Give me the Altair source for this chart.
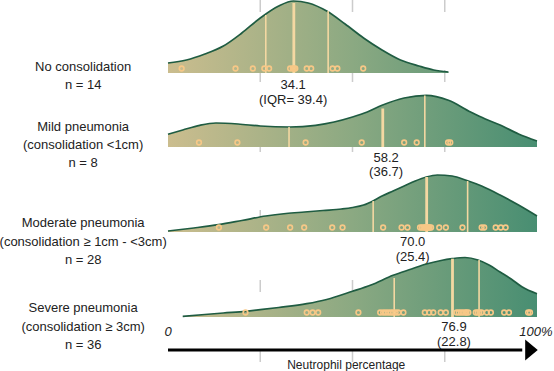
import altair as alt
import pandas as pd

# ---------------- data ----------------
groups = ["No consolidation", "Mild pneumonia", "Moderate pneumonia", "Severe pneumonia"]

# density curves (x = neutrophil %, h = relative height)
curve_x = [
    [0, 5, 10, 15, 20, 25, 30, 34, 38, 43, 48, 53, 58, 63, 68, 72, 76],
    [0, 4, 8.6, 13, 19, 25, 33, 40, 45, 50, 54, 58, 64, 70, 76, 82, 86, 90, 95, 100],
    [0, 7, 13.7, 20, 26.5, 32, 37, 42, 47, 50, 53, 56, 58, 61, 64, 67, 70, 73, 77, 81, 85, 90, 95, 100],
    [4, 10, 15, 21, 25, 30, 37.6, 43, 50, 55, 61, 66, 70, 74, 77, 80.5, 84, 87, 90, 93, 96, 100],
]
curve_h = [
    [10, 13, 19, 27, 40, 55, 67, 72, 70, 62, 49, 35, 23, 13, 7, 3, 1],
    [12.7, 17, 21.7, 24, 23, 21, 20, 21.7, 25, 30, 35, 41.7, 49, 51.7, 46.7, 35, 28, 22, 13, 6],
    [1, 4, 7.3, 11.5, 16, 18.5, 20, 21.5, 23, 24.5, 27, 32, 36, 41, 46, 51, 55, 57, 56, 51.5, 46, 37, 27, 16],
    [0.7, 2.5, 4, 5.7, 7.3, 9.5, 13.3, 17.5, 25.7, 32, 41.7, 48, 53, 56.5, 58.3, 59.5, 57, 52, 45, 38, 30, 23.3],
]

# individual observations
points = [
    [3.7, 18.3, 23.0, 26.1, 27.4, 33.1, 33.8, 34.1, 34.5, 37.6, 38.8, 44.6, 45.9, 52.9],
    [8.4, 18.8, 37.3, 52.5, 64.0, 67.4, 75.9, 76.5],
    [13.8, 26.6, 33.1, 36.9, 44.5, 47.3, 58.3, 63.3, 64.9, 68.3, 68.8, 69.2, 69.6, 69.9,
     70.0, 70.2, 70.5, 70.7, 70.9, 71.3, 73.5, 75.3, 79.8, 85.0, 85.7, 88.8, 90.2, 91.5],
    [21.0, 37.6, 39.2, 40.7, 51.6, 57.5, 58.3, 59.0, 59.7, 60.4, 61.0, 61.7, 62.4, 63.8,
     69.6, 70.8, 71.9, 73.9, 75.3, 78.2, 78.8, 79.4, 80.0, 80.6, 80.9, 81.4, 83.4, 83.9,
     84.4, 85.0, 86.4, 87.5, 91.1, 92.4, 97.6, 98.1],
]

# quartile lines (Q1, median, Q3) and the curve height at each
quart_x = [[26.5, 34.1, 43.4], [32.8, 58.2, 69.6], [55.6, 70.1, 81.2], [61.3, 77.1, 84.3]]
quart_h = [[58, 70, 62], [20, 38.5, 51.5], [31, 55, 51], [39, 58.3, 57]]

median_txt = ["34.1", "58.2", "70.0", "76.9"]
iqr_txt = ["(IQR= 39.4)", "(36.7)", "(25.4)", "(22.8)"]
group_lines = [
    ["No consolidation", "n = 14"],
    ["Mild pneumonia", "(consolidation <1cm)", "n = 8"],
    ["Moderate pneumonia", "(consolidation \u2265 1cm - <3cm)", "n = 28"],
    ["Severe pneumonia", "(consolidation \u2265 3cm)", "n = 36"],
]
grid_x = [25, 50, 75]

# ---------------- layout (pixels) ----------------
baselines = [73, 147, 232, 317]
stat_x = [33.9, 59.1, 66.3, 77.5]
stat_y = [[85, 100], [158, 172], [242, 257], [327, 342]]
label_y = [[67, 85], [127, 145, 163], [223, 242, 260], [308, 327, 345]]
label_x = -23.0
FONT = "Liberation Sans"

xs = alt.Scale(domain=[0, 100], nice=False, zero=False)
ys = alt.Scale(domain=[0, 371], reverse=True, nice=False, zero=False)

def X(f="x"):
    return alt.X(f"{f}:Q", scale=xs, axis=None)

def Y(f="y"):
    return alt.Y(f"{f}:Q", scale=ys, axis=None)

layers = []

# grid
grid_df = pd.DataFrame({"x": grid_x})
layers.append(
    alt.Chart(grid_df).mark_rule(color="#cccccc", strokeWidth=1.5, strokeDash=[12, 58])
    .encode(x=X(), y=alt.value(0), y2=alt.value(371))
)

for i, g in enumerate(groups):
    b = baselines[i]
    cdf = pd.DataFrame({"x": curve_x[i], "y": [b - h for h in curve_h[i]], "y0": b})
    vmin, vmax = min(curve_x[i]), max(curve_x[i])
    grad = alt.Gradient(
        gradient="linear",
        stops=[alt.GradientStop(color="#cbbd8e", offset=0),
               alt.GradientStop(color="#8ba982", offset=0.5),
               alt.GradientStop(color="#488e72", offset=1)],
        x1=(0 - vmin) / (vmax - vmin), x2=(100 - vmin) / (vmax - vmin), y1=0, y2=0,
    )
    layers.append(
        alt.Chart(cdf).mark_area(color=grad, interpolate="monotone")
        .encode(x=X(), y=Y(), y2="y0:Q")
    )
    layers.append(
        alt.Chart(cdf).mark_line(color="#1f5c42", strokeWidth=1.7, interpolate="monotone")
        .encode(x=X(), y=Y())
    )
    qdf = pd.DataFrame({"x": quart_x[i], "y": [b - h for h in quart_h[i]], "y0": b,
                        "w": [1.6, 2.8, 1.6]})
    layers.append(
        alt.Chart(qdf).mark_rule(color="#f4d8a2")
        .encode(x=X(), y=Y(), y2="y0:Q",
                strokeWidth=alt.StrokeWidth("w:Q", scale=None, legend=None))
    )
    pdf = pd.DataFrame({"x": points[i], "y": b - 4.5})
    layers.append(
        alt.Chart(pdf).mark_point(shape="circle", filled=False, color="#f7c887",
                                  size=22, strokeWidth=1.6, opacity=1)
        .encode(x=X(), y=Y())
    )
    sdf = pd.DataFrame({"x": stat_x[i], "y": stat_y[i], "t": [median_txt[i], iqr_txt[i]]})
    layers.append(
        alt.Chart(sdf).mark_text(font=FONT, fontSize=13, color="#222222", align="center",
                                 baseline="middle")
        .encode(x=X(), y=Y(), text="t:N")
    )
    ldf = pd.DataFrame({"x": label_x, "y": label_y[i], "t": group_lines[i]})
    layers.append(
        alt.Chart(ldf).mark_text(font=FONT, fontSize=13, color="#222222", align="center",
                                 baseline="middle")
        .encode(x=X(), y=Y(), text="t:N")
    )

# axis arrow and end labels
arrow_df = pd.DataFrame({"x": [0], "x2": [96], "y": [350]})
layers.append(
    alt.Chart(arrow_df).mark_rule(color="#000000", strokeWidth=3)
    .encode(x=X(), x2="x2:Q", y=Y())
)
head_df = pd.DataFrame({"x": [98.5], "y": [350]})
layers.append(
    alt.Chart(head_df).mark_point(shape="M-0.6,-1L0.6,0L-0.6,1Z", filled=True, color="#000000",
                                  size=441, opacity=1)
    .encode(x=X(), y=Y())
)
end_df = pd.DataFrame({"x": [0, 99.7], "y": [332, 332], "t": ["0", "100%"]})
layers.append(
    alt.Chart(end_df).mark_text(font=FONT, fontSize=13, fontStyle="italic", color="#222222",
                                align="center", baseline="middle")
    .encode(x=X(), y=Y(), text="t:N")
)
title_df = pd.DataFrame({"x": [48.3], "y": [365], "t": ["Neutrophil percentage"]})
layers.append(
    alt.Chart(title_df).mark_text(font=FONT, fontSize=12, color="#222222",
                                  align="center", baseline="middle")
    .encode(x=X(), y=Y(), text="t:N")
)

chart = alt.layer(*layers).properties(
    width=369, height=371,
    padding={"left": 168, "right": 17, "top": 0, "bottom": 0},
    autosize=alt.AutoSizeParams(type="none"),
    background="white",
).configure_view(stroke=None)

chart.save("out.html", embed_options={"renderer": "svg", "actions": False})
